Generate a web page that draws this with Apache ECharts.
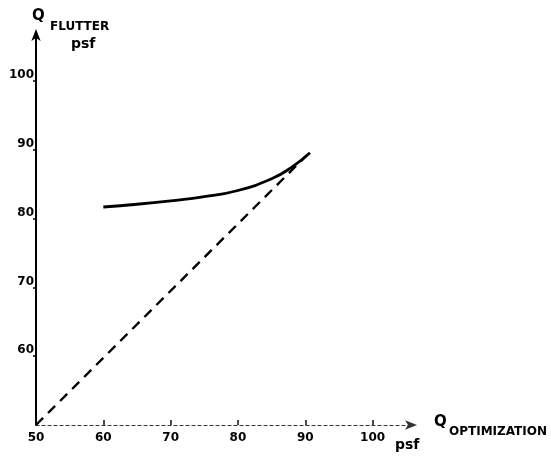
<!DOCTYPE html>
<html>
<head>
<meta charset="utf-8">
<script src="https://cdn.jsdelivr.net/npm/echarts@6/dist/echarts.min.js"></script>
<style>html,body{margin:0;padding:0;background:#fff;}#c{width:551px;height:461px;}</style>
</head>
<body>
<div id="c"></div>
<script>
const xTicks = [50, 60, 70, 80, 90, 100];
const yTicks = [50, 60, 70, 80, 90, 100];
const flutterCurve = [[60, 81.7], [65, 82.1], [70, 82.6], [75, 83.2], [80, 84.1], [85, 85.8], [88, 87.5], [90.7, 89.6]];
const equalityLine = [[50, 50], [90.3, 89.3]];

const chart = echarts.init(document.getElementById('c'));
const fontFam = '"DejaVu Sans", sans-serif';
chart.setOption({
  backgroundColor: '#fff',
  animation: false,
  grid: { left: 36, right: 138, top: 33, bottom: 36 },
  xAxis: {
    type: 'value', min: 50, max: 106, interval: 10,
    axisLine: { show: true, onZero: false, symbol: ['none', 'arrow'], symbolSize: [7, 12], symbolOffset: [0, 4],
      lineStyle: { color: '#333', width: 1.2, type: [3, 3] } },
    axisTick: { show: true, inside: true, length: 5, lineStyle: { color: '#111', width: 1.5 } },
    axisLabel: { showMaxLabel: false, color: '#000', fontWeight: 'bold', fontSize: 12, fontFamily: fontFam, margin: 7,
      formatter: v => xTicks.includes(v) ? String(v) : '' },
    splitLine: { show: false }
  },
  yAxis: {
    type: 'value', min: 50, max: 107, interval: 10,
    axisLine: { show: true, onZero: false, symbol: ['none', 'arrow'], symbolSize: [7, 12], symbolOffset: [0, 4],
      lineStyle: { color: '#000', width: 2 } },
    axisTick: { show: true, length: 3, lineStyle: { color: '#000', width: 1.5 } },
    axisLabel: { showMaxLabel: false, showMinLabel: false, color: '#000', fontWeight: 'bold', fontSize: 12, fontFamily: fontFam, margin: 2,
      verticalAlign: 'bottom', formatter: v => yTicks.includes(v) ? String(v) : '' },
    splitLine: { show: false }
  },
  graphic: [
    { type: 'text', left: 32, top: 9, style: { text: 'Q', font: 'bold 15px ' + fontFam, fill: '#000' } },
    { type: 'text', left: 50, top: 21, style: { text: 'FLUTTER', font: 'bold 12px ' + fontFam, fill: '#000' } },
    { type: 'text', left: 71, top: 37, style: { text: 'psf', font: 'bold 14px ' + fontFam, fill: '#000' } },
    { type: 'text', left: 434, top: 415, style: { text: 'Q', font: 'bold 15px ' + fontFam, fill: '#000' } },
    { type: 'text', left: 449, top: 426, style: { text: 'OPTIMIZATION', font: 'bold 12px ' + fontFam, fill: '#000' } },
    { type: 'text', left: 395, top: 438, style: { text: 'psf', font: 'bold 14px ' + fontFam, fill: '#000' } }
  ],
  series: [
    { type: 'line', data: flutterCurve, smooth: 0.5, showSymbol: false,
      lineStyle: { color: '#000', width: 2.8 } },
    { type: 'line', data: equalityLine, showSymbol: false,
      lineStyle: { color: '#000', width: 2.4, type: [10, 7] } }
  ]
});
</script>
</body>
</html>
